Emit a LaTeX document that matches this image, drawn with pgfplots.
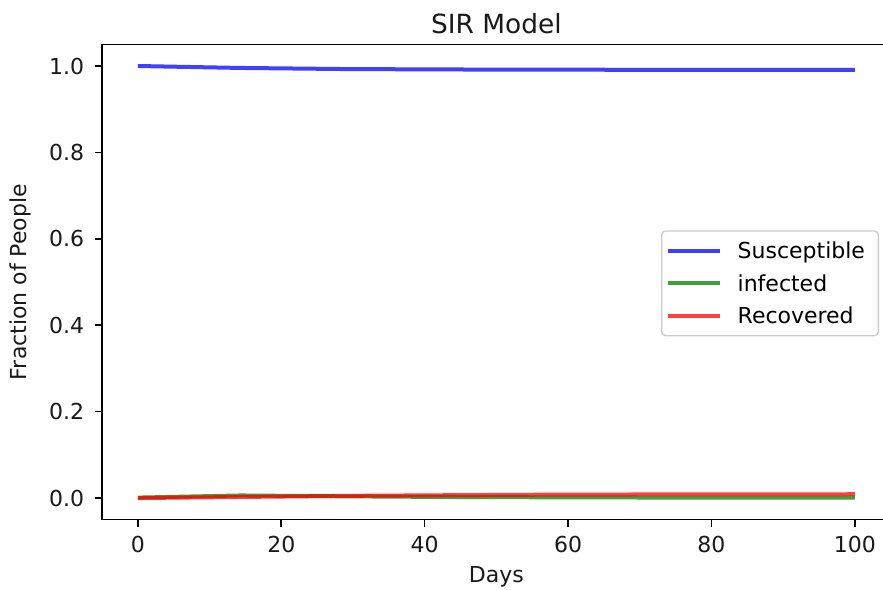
\documentclass[border=0pt]{standalone}
\usepackage{fontspec}
\setmainfont{DejaVu Sans}
\usepackage{pgfplots}
\pgfplotsset{compat=1.18}
\begin{document}
\begin{tikzpicture}
\begin{axis}[
  name=ax,
  scale only axis,
  width=591.5pt, height=356.4pt,
  xmin=-5, xmax=105, ymin=-0.05, ymax=1.05,
  xtick={0,20,40,60,80,100},
  ytick={0,0.2,0.4,0.6,0.8,1.0},
  /pgf/number format/assume math mode=true,
  tick align=outside,
  tick pos=left,
  major tick length=5.5pt,
  tick style={black, line width=1.2pt},
  axis line style={line width=1.2pt},
  tick label style={font=\fontsize{16.5}{19}\selectfont, text=black!90},
  xticklabel style={anchor=base, yshift=-19pt},
  yticklabel style={anchor=east, xshift=-4.4pt, /pgf/number format/.cd, fixed, fixed zerofill, precision=1},
  xlabel={Days}, ylabel={Fraction of People},
  label style={font=\fontsize{16.5}{19}\selectfont, text=black!90},
  xlabel style={at={(rel axis cs:0.5,0)}, anchor=base, yshift=-47pt},
  ylabel style={at={(rel axis cs:0,0.5)}, anchor=base, yshift=56.25pt},
  title={SIR Model},
  title style={font=\fontsize{19.8}{23}\selectfont, text=black!90, at={(rel axis cs:0.5,1)}, anchor=base, yshift=2.25pt},
  legend style={at={(rel axis cs:1,0.5)}, anchor=east, xshift=-8.8pt, yshift=-1pt,
    draw=black!20, line width=1pt, rounded corners=3pt, fill=white, fill opacity=0.8, text opacity=1,
    font=\fontsize{16.5}{19}\selectfont, row sep=12.3pt, inner xsep=3pt, inner ysep=9pt,
    nodes={inner sep=0pt, text height=12pt, text depth=0pt},
    /tikz/every odd column/.append style={column sep=12pt}},
  legend cell align=left,
  legend image code/.code={\draw[line width=3pt] plot coordinates {(0pt,0pt) (39pt,0pt)};},
]
\addplot[blue, opacity=0.75, line width=3pt] coordinates {
(0,1.000) (14.29,0.9955) (28.57,0.9930) (42.86,0.9920) (57.14,0.9915) (71.43,0.9912) (85.71,0.9910) (100,0.9909)};
\addlegendentry{Susceptible\hspace*{7pt}}
\addplot[green!50!black, opacity=0.75, line width=3pt] coordinates {
(0,0.001) (14.29,0.0060) (28.57,0.0040) (42.86,0.0025) (57.14,0.0017) (71.43,0.0012) (85.71,0.0009) (100,0.0007)};
\addlegendentry{infected}
\addplot[red, opacity=0.75, line width=3pt] coordinates {
(0,0.000) (14.29,0.0025) (28.57,0.0050) (42.86,0.0065) (57.14,0.0078) (71.43,0.0083) (85.71,0.0086) (100,0.0088)};
\addlegendentry{Recovered}
\end{axis}
\pgfresetboundingbox
\path[use as bounding box] ([xshift=-76.5pt,yshift=-52.5pt]ax.south west) rectangle ([xshift=-5.8pt,yshift=33.3pt]ax.north east);
\end{tikzpicture}
\end{document}
